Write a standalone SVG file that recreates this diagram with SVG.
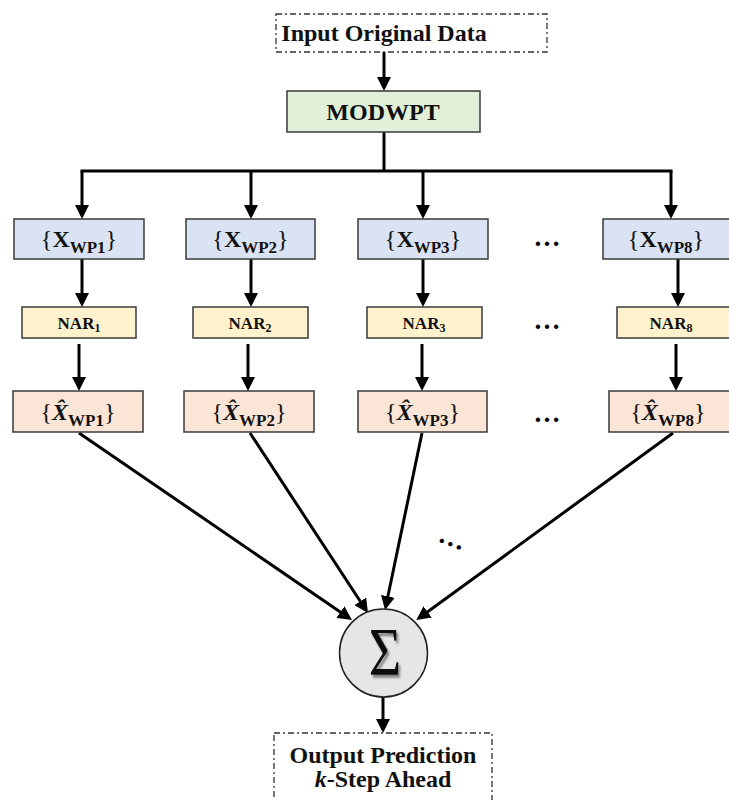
<svg xmlns="http://www.w3.org/2000/svg" width="729" height="800" viewBox="0 0 729 800">
<style>
.box{stroke:#3a3a3a;stroke-width:1.5}
.dash{fill:#fff;stroke:#333;stroke-width:1.3;stroke-dasharray:6 3 2 3}
.blue{fill:#DAE3F3}
.green{fill:#E2F0D9}
.yel{fill:#FFF2CC}
.pink{fill:#FBE5D6}
.t{font-family:"Liberation Serif","Times New Roman",serif;font-weight:bold;fill:#111;text-anchor:middle}
.m{font-family:"Liberation Serif","Times New Roman",serif;fill:#111;text-anchor:middle;font-size:24px}
.c line,.c path{stroke:#000;stroke-width:3;fill:none}
.dots{font-family:"Liberation Serif",serif;font-weight:bold;font-size:27px;fill:#000;text-anchor:middle}
</style>
<defs>
<marker id="ah" markerUnits="userSpaceOnUse" markerWidth="14" markerHeight="14" refX="2" refY="7" orient="auto">
<path d="M0,0 L14,7 L0,14 z" fill="#000"/>
</marker>
<filter id="sh" x="-30%" y="-30%" width="160%" height="160%">
<feGaussianBlur in="SourceAlpha" stdDeviation="1.3" result="b"/>
<feOffset in="b" dx="2.5" dy="2.5" result="o"/>
<feComponentTransfer in="o" result="s"><feFuncA type="linear" slope="0.45"/></feComponentTransfer>
<feMerge><feMergeNode in="s"/><feMergeNode in="SourceGraphic"/></feMerge>
</filter>
</defs>

<g class="c">
<line x1="384" y1="52" x2="384" y2="79" marker-end="url(#ah)"/>
<line x1="384" y1="132" x2="384" y2="171"/>
<path d="M80.5,171 H672.5"/>
<line x1="82" y1="171" x2="82" y2="207" marker-end="url(#ah)"/>
<line x1="251" y1="171" x2="251" y2="207" marker-end="url(#ah)"/>
<line x1="423" y1="171" x2="423" y2="207" marker-end="url(#ah)"/>
<line x1="671" y1="171" x2="671" y2="207" marker-end="url(#ah)"/>
<line x1="82" y1="259" x2="82" y2="295" marker-end="url(#ah)"/>
<line x1="251" y1="259" x2="251" y2="295" marker-end="url(#ah)"/>
<line x1="423" y1="259" x2="423" y2="295" marker-end="url(#ah)"/>
<line x1="678" y1="259" x2="678" y2="295" marker-end="url(#ah)"/>
<line x1="79" y1="344" x2="79" y2="379" marker-end="url(#ah)"/>
<line x1="248" y1="344" x2="248" y2="379" marker-end="url(#ah)"/>
<line x1="422" y1="344" x2="422" y2="379" marker-end="url(#ah)"/>
<line x1="676" y1="344" x2="676" y2="379" marker-end="url(#ah)"/>
<line x1="79" y1="433" x2="342.1" y2="613.2" marker-end="url(#ah)"/>
<line x1="250" y1="433" x2="361.4" y2="603" marker-end="url(#ah)"/>
<line x1="422" y1="433" x2="387.5" y2="598.3" marker-end="url(#ah)"/>
<line x1="673" y1="433" x2="426" y2="613" marker-end="url(#ah)"/>
<line x1="383" y1="697" x2="383" y2="721" marker-end="url(#ah)"/>
</g>

<g id="input">
<rect class="dash" x="276" y="14" width="271" height="38"/>
<text class="t" x="384" y="41" font-size="24">Input Original Data</text>
</g>
<g id="modwpt">
<rect class="box green" x="287" y="91" width="193" height="41"/>
<text class="t" x="383" y="120" font-size="24">MODWPT</text>
</g>

<g id="xwp1"><rect class="box blue" x="14" y="219" width="130" height="40"/>
<text class="m" x="79" y="247">{<tspan font-weight="bold">X</tspan><tspan font-weight="bold" font-size="17" dy="6">WP1</tspan><tspan dy="-6">}</tspan></text></g>
<g id="xwp2"><rect class="box blue" x="186" y="219" width="129" height="40"/>
<text class="m" x="250.5" y="247">{<tspan font-weight="bold">X</tspan><tspan font-weight="bold" font-size="17" dy="6">WP2</tspan><tspan dy="-6">}</tspan></text></g>
<g id="xwp3"><rect class="box blue" x="358" y="219" width="130" height="40"/>
<text class="m" x="423" y="247">{<tspan font-weight="bold">X</tspan><tspan font-weight="bold" font-size="17" dy="6">WP3</tspan><tspan dy="-6">}</tspan></text></g>
<g id="xwp8"><rect class="box blue" x="603" y="219" width="130" height="40"/>
<text class="m" x="666" y="247">{<tspan font-weight="bold">X</tspan><tspan font-weight="bold" font-size="17" dy="6">WP8</tspan><tspan dy="-6">}</tspan></text></g>

<g id="nar1"><rect class="box yel" x="22" y="307" width="114" height="31"/>
<text class="t" x="79" y="329" font-size="17">NAR<tspan font-size="12" dy="3">1</tspan></text></g>
<g id="nar2"><rect class="box yel" x="193" y="307" width="115" height="31"/>
<text class="t" x="250" y="329" font-size="17">NAR<tspan font-size="12" dy="3">2</tspan></text></g>
<g id="nar3"><rect class="box yel" x="367" y="307" width="115" height="31"/>
<text class="t" x="424" y="329" font-size="17">NAR<tspan font-size="12" dy="3">3</tspan></text></g>
<g id="nar8"><rect class="box yel" x="617" y="307" width="120" height="31"/>
<text class="t" x="671" y="329" font-size="17">NAR<tspan font-size="12" dy="3">8</tspan></text></g>

<g id="hat1"><rect class="box pink" x="13" y="391" width="130" height="41"/>
<text class="m" x="78" y="420">{<tspan font-weight="bold" font-style="italic">X̂</tspan><tspan font-weight="bold" font-size="17" dy="6">WP1</tspan><tspan dy="-6">}</tspan></text></g>
<g id="hat2"><rect class="box pink" x="184" y="391" width="130" height="41"/>
<text class="m" x="249" y="420">{<tspan font-weight="bold" font-style="italic">X̂</tspan><tspan font-weight="bold" font-size="17" dy="6">WP2</tspan><tspan dy="-6">}</tspan></text></g>
<g id="hat3"><rect class="box pink" x="358" y="391" width="129" height="41"/>
<text class="m" x="422.5" y="420">{<tspan font-weight="bold" font-style="italic">X̂</tspan><tspan font-weight="bold" font-size="17" dy="6">WP3</tspan><tspan dy="-6">}</tspan></text></g>
<g id="hat8"><rect class="box pink" x="609" y="391" width="130" height="41"/>
<text class="m" x="668" y="420">{<tspan font-weight="bold" font-style="italic">X̂</tspan><tspan font-weight="bold" font-size="17" dy="6">WP8</tspan><tspan dy="-6">}</tspan></text></g>

<g id="ellipses">
<text class="dots" x="547" y="246">…</text>
<text class="dots" x="547" y="329">…</text>
<text class="dots" x="547" y="422">…</text>
<text class="dots" x="451" y="546" transform="rotate(21 451 542)">…</text>
</g>

<g id="sum">
<circle cx="383.5" cy="653" r="44" fill="#E6E6E6" stroke="#222" stroke-width="1.5"/>
<text x="0" y="0" font-family="Liberation Serif,serif" font-size="68" fill="#111" text-anchor="middle" filter="url(#sh)" transform="translate(385,674) scale(0.82,1)">Σ</text>
</g>

<g id="output">
<rect class="dash" x="274" y="733" width="218" height="80"/>
<text class="t" x="383" y="763" font-size="24">Output Prediction</text>
<text class="t" x="383" y="787" font-size="24"><tspan font-style="italic">k</tspan>-Step Ahead</text>
</g>
</svg>
